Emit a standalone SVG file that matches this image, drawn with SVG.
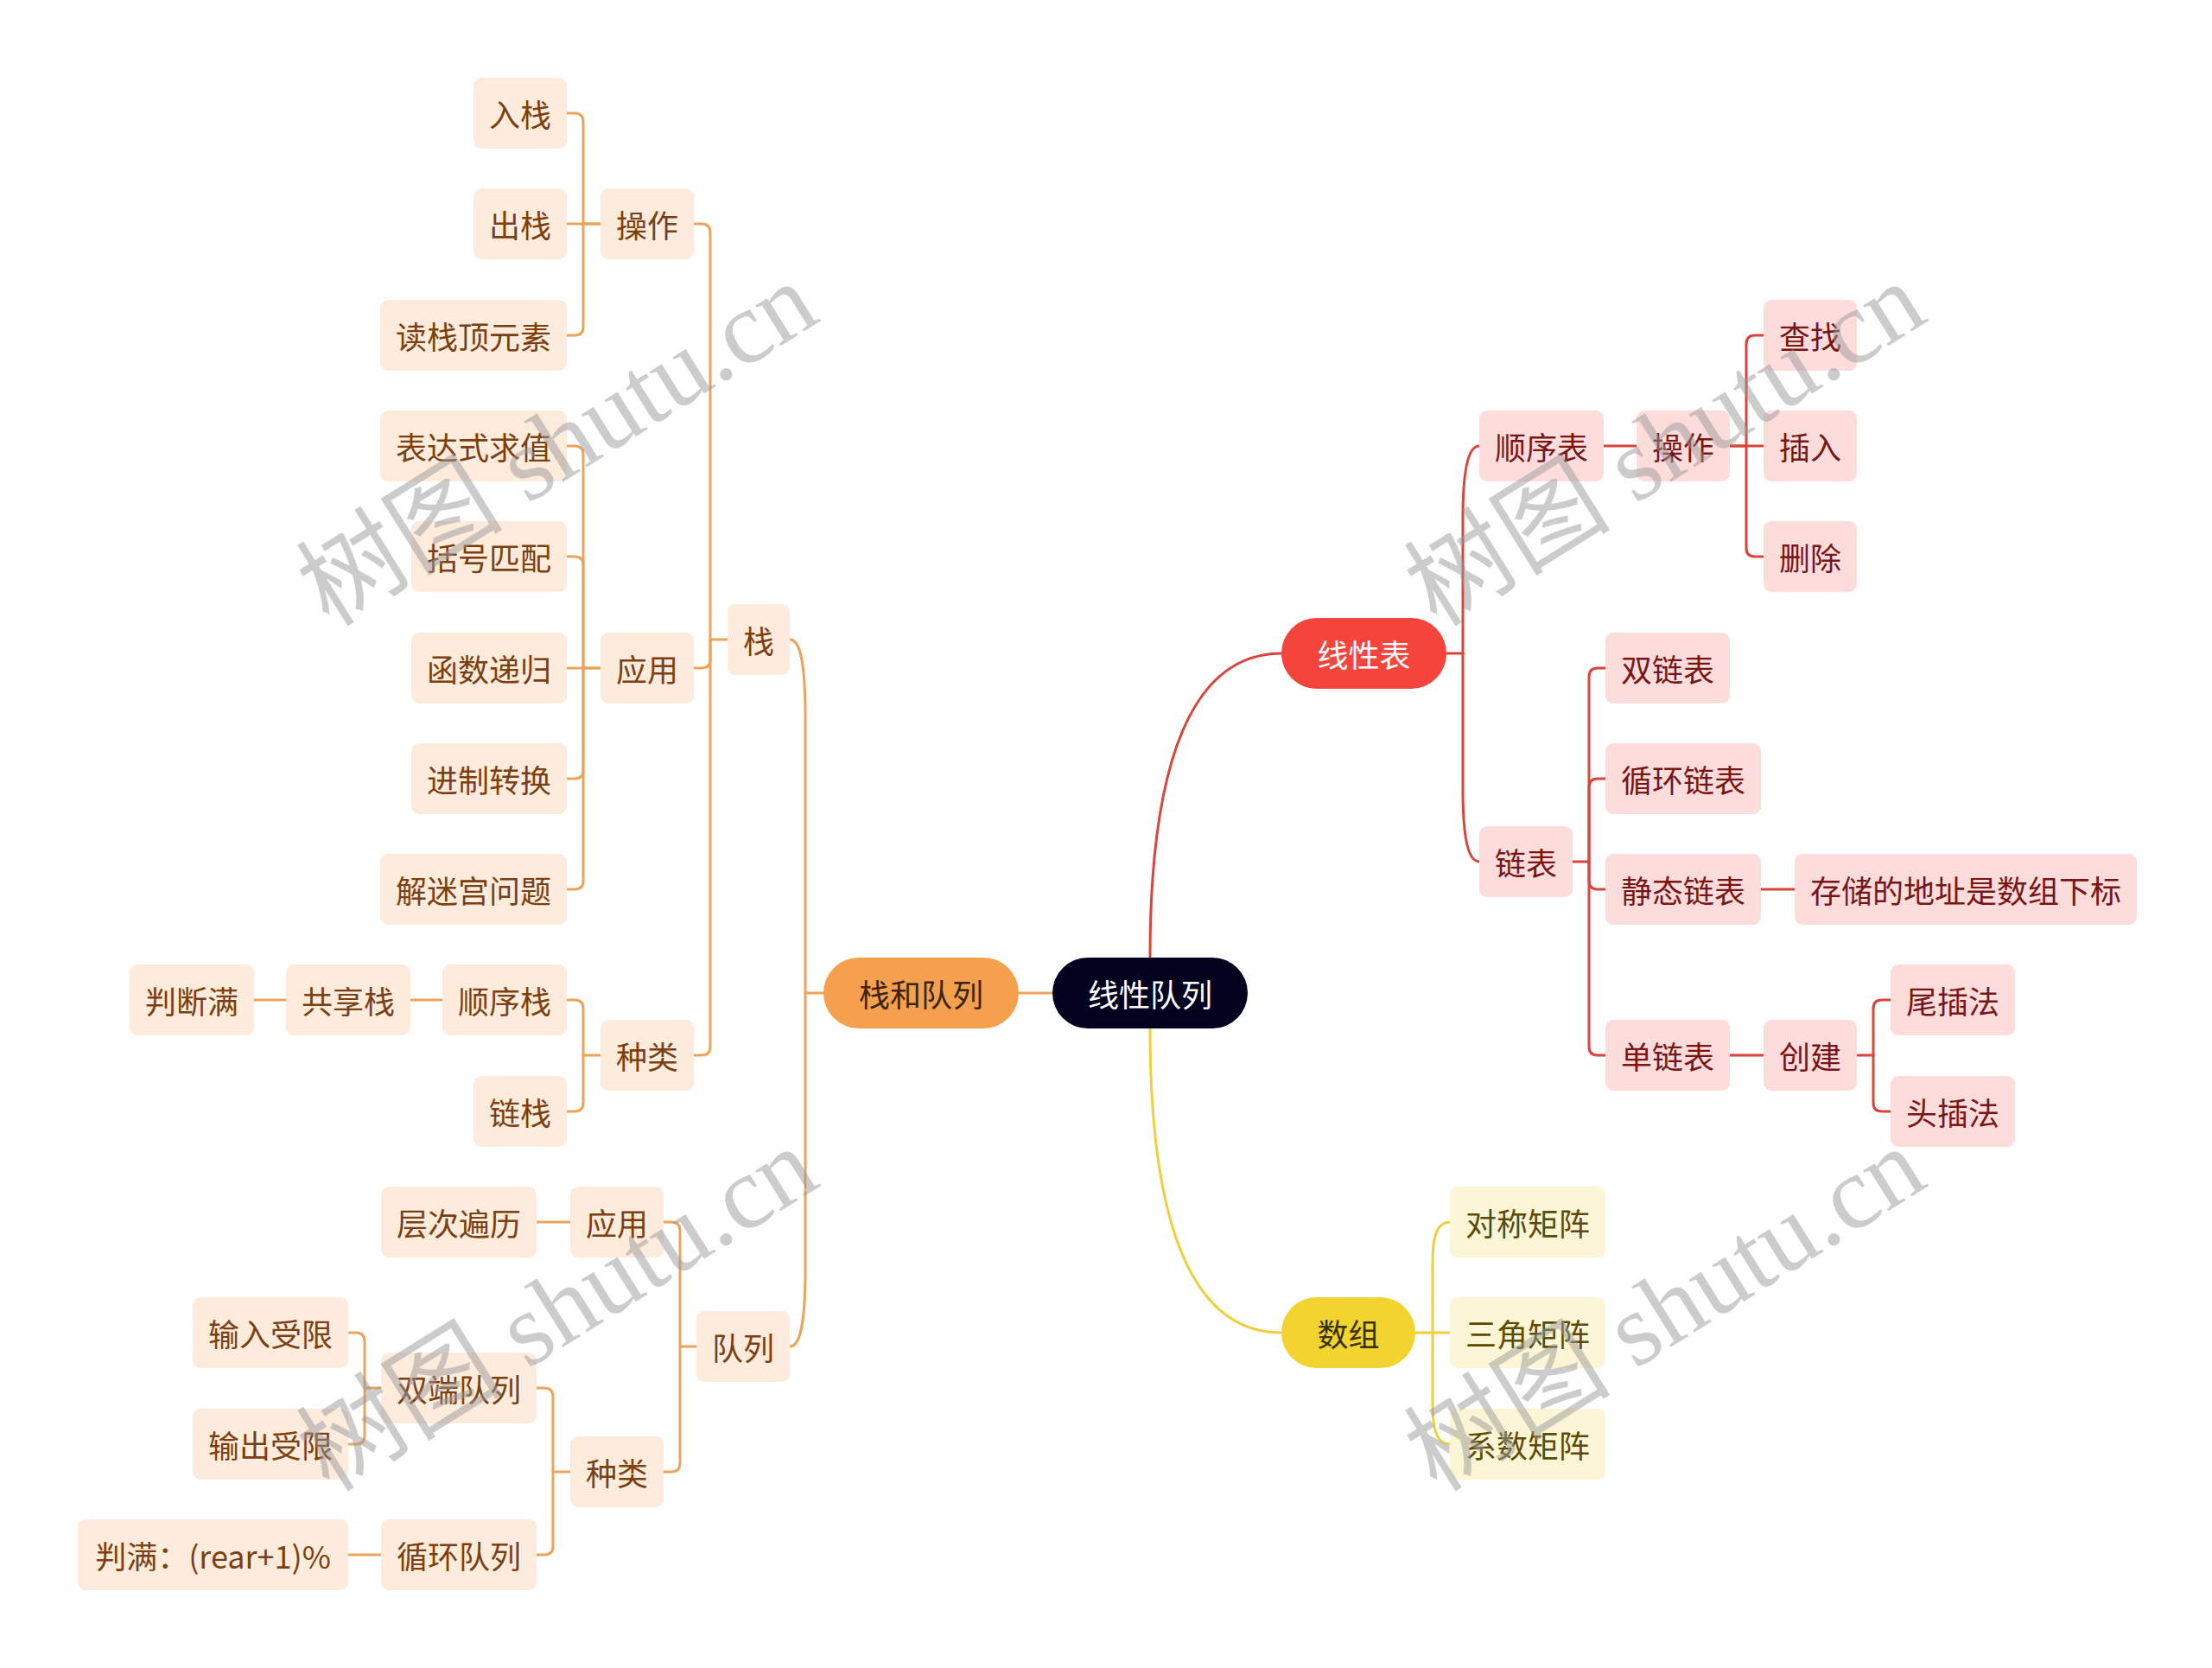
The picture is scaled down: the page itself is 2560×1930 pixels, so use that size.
<svg xmlns="http://www.w3.org/2000/svg" width="2560" height="1930" viewBox="0 0 2560 1930">
<style>
.t{font-family:"Noto Sans CJK SC","Noto Sans",sans-serif;font-size:36px;text-anchor:middle;dominant-baseline:central}
.bo{fill:#fdebdc}.br{fill:#fddcdc}.by{fill:#fcf6d6}
.to{fill:#7b3f12}.tr{fill:#7a1515}.ty{fill:#5c4b06}
.l{fill:none;stroke-width:3;stroke-linecap:round;stroke-linejoin:round}
.lo{stroke:#eba45a}.lr{stroke:#d9443b}.ly{stroke:#efd03a}
.wm{font-family:"Liberation Serif","Noto Sans CJK SC",serif;font-size:120px;fill:#9a9a9a;fill-opacity:0.5;text-anchor:middle;dominant-baseline:central}
</style>
<rect width="2560" height="1930" fill="#ffffff"/>
<g id="connectors">
<g class="l lo">
<path d="M656,131 H665 Q675,131 675,141 V259 H695"/>
<path d="M656,259 H695"/>
<path d="M656,388 H665 Q675,388 675,378 V259"/>
<path d="M656,516 H665 Q675,516 675,526 V773 H695"/>
<path d="M656,644 H665 Q675,644 675,654 V773"/>
<path d="M656,773 H695"/>
<path d="M656,901 H665 Q675,901 675,891 V773"/>
<path d="M656,1029 H665 Q675,1029 675,1019 V773"/>
<path d="M656,1157 H665 Q675,1157 675,1167 V1221 H695"/>
<path d="M656,1286 H665 Q675,1286 675,1276 V1221"/>
<path d="M475,1157 H512"/>
<path d="M294,1157 H331"/>
<path d="M803,259 H812 Q822,259 822,269 V740 H842"/>
<path d="M803,773 H812 Q822,773 822,763 V740"/>
<path d="M803,1221 H812 Q822,1221 822,1211 V740"/>
<path d="M768,1414 H777 Q787,1414 787,1424 V1558 H806"/>
<path d="M768,1703 H777 Q787,1703 787,1693 V1558"/>
<path d="M621,1414 H660"/>
<path d="M621,1606 H630 Q640,1606 640,1616 V1703 H660"/>
<path d="M621,1799 H630 Q640,1799 640,1789 V1703"/>
<path d="M403,1542 H412 Q422,1542 422,1552 V1606 H441"/>
<path d="M403,1671 H412 Q422,1671 422,1661 V1606"/>
<path d="M403,1799 H441"/>
<path d="M953,1149 H932"/>
<path d="M914,740 C926,740 932,765 932,830 V1149"/>
<path d="M914,1558 C926,1558 932,1533 932,1468 V1149"/>
<path d="M1218,1149 H1179"/>
</g>
<g class="l lr">
<path d="M1331,1107 C1331,880 1380,756 1483,756"/>
<path d="M1674,756 H1693"/>
<path d="M1712,516 C1700,516 1693,540 1693,600 V756"/>
<path d="M1712,997 C1700,997 1693,973 1693,913 V756"/>
<path d="M1856,516 H1894"/>
<path d="M2002,516 H2021 V398 Q2021,388 2031,388 H2041"/>
<path d="M2002,516 H2041"/>
<path d="M2021,516 V634 Q2021,644 2031,644 H2041"/>
<path d="M1820,997 H1839 V783 Q1839,773 1849,773 H1858"/>
<path d="M1839,997 V911 Q1839,901 1849,901 H1858"/>
<path d="M1839,997 V1019 Q1839,1029 1849,1029 H1858"/>
<path d="M1839,997 V1211 Q1839,1221 1849,1221 H1858"/>
<path d="M2038,1029 H2077"/>
<path d="M2002,1221 H2041"/>
<path d="M2149,1221 H2168 V1167 Q2168,1157 2178,1157 H2188"/>
<path d="M2168,1221 V1276 Q2168,1286 2178,1286 H2188"/>
</g>
<g class="l ly">
<path d="M1331,1191 C1331,1418 1380,1542 1483,1542"/>
<path d="M1638,1542 H1678"/>
<path d="M1678,1414 C1664,1414 1658,1428 1658,1460 V1542"/>
<path d="M1678,1671 C1664,1671 1658,1657 1658,1625 V1542"/>
</g>
</g>
<g id="root"><rect x="1218" y="1108" width="226" height="82" rx="41" fill="#02021f"/><text class="t" x="1331" y="1149" fill="#ffffff">线性队列</text></g>
<g id="n-zhan-duilie"><rect x="953" y="1108" width="226" height="82" rx="41" fill="#f4a04c"/><text class="t" x="1066" y="1149" fill="#3a2412">栈和队列</text></g>
<g id="n-xianxingbiao"><rect x="1483" y="715" width="191" height="82" rx="41" fill="#f5443c"/><text class="t" x="1578.5" y="756" fill="#ffffff">线性表</text></g>
<g id="n-shuzu"><rect x="1483" y="1501" width="155" height="82" rx="41" fill="#f2d330"/><text class="t" x="1560.5" y="1542" fill="#3a3000">数组</text></g>
<g id="n-ruzhan"><rect class="bo" x="548" y="90" width="108" height="82" rx="9"/><text class="t to" x="602" y="131">入栈</text></g>
<g id="n-chuzhan"><rect class="bo" x="548" y="218" width="108" height="82" rx="9"/><text class="t to" x="602" y="259">出栈</text></g>
<g id="n-duzhanding"><rect class="bo" x="440" y="347" width="216" height="82" rx="9"/><text class="t to" x="548" y="388">读栈顶元素</text></g>
<g id="n-caozuo1"><rect class="bo" x="695" y="218" width="108" height="82" rx="9"/><text class="t to" x="749" y="259">操作</text></g>
<g id="n-biaodashi"><rect class="bo" x="440" y="475" width="216" height="82" rx="9"/><text class="t to" x="548" y="516">表达式求值</text></g>
<g id="n-kuohao"><rect class="bo" x="476" y="603" width="180" height="82" rx="9"/><text class="t to" x="566" y="644">括号匹配</text></g>
<g id="n-hanshu"><rect class="bo" x="476" y="732" width="180" height="82" rx="9"/><text class="t to" x="566" y="773">函数递归</text></g>
<g id="n-jinzhi"><rect class="bo" x="476" y="860" width="180" height="82" rx="9"/><text class="t to" x="566" y="901">进制转换</text></g>
<g id="n-migong"><rect class="bo" x="440" y="988" width="216" height="82" rx="9"/><text class="t to" x="548" y="1029">解迷宫问题</text></g>
<g id="n-yingyong1"><rect class="bo" x="695" y="732" width="108" height="82" rx="9"/><text class="t to" x="749" y="773">应用</text></g>
<g id="n-zhan"><rect class="bo" x="842" y="699" width="72" height="82" rx="9"/><text class="t to" x="878" y="740">栈</text></g>
<g id="n-shunxuzhan"><rect class="bo" x="512" y="1116" width="144" height="82" rx="9"/><text class="t to" x="584" y="1157">顺序栈</text></g>
<g id="n-gongxiang"><rect class="bo" x="331" y="1116" width="144" height="82" rx="9"/><text class="t to" x="403" y="1157">共享栈</text></g>
<g id="n-panduanman"><rect class="bo" x="150" y="1116" width="144" height="82" rx="9"/><text class="t to" x="222" y="1157">判断满</text></g>
<g id="n-lianzhan"><rect class="bo" x="548" y="1245" width="108" height="82" rx="9"/><text class="t to" x="602" y="1286">链栈</text></g>
<g id="n-zhonglei1"><rect class="bo" x="695" y="1180" width="108" height="82" rx="9"/><text class="t to" x="749" y="1221">种类</text></g>
<g id="n-cengci"><rect class="bo" x="441" y="1373" width="180" height="82" rx="9"/><text class="t to" x="531" y="1414">层次遍历</text></g>
<g id="n-yingyong2"><rect class="bo" x="660" y="1373" width="108" height="82" rx="9"/><text class="t to" x="714" y="1414">应用</text></g>
<g id="n-duilie"><rect class="bo" x="806" y="1517" width="108" height="82" rx="9"/><text class="t to" x="860" y="1558">队列</text></g>
<g id="n-shuru"><rect class="bo" x="223" y="1501" width="180" height="82" rx="9"/><text class="t to" x="313" y="1542">输入受限</text></g>
<g id="n-shuangduan"><rect class="bo" x="441" y="1565" width="180" height="82" rx="9"/><text class="t to" x="531" y="1606">双端队列</text></g>
<g id="n-shuchu"><rect class="bo" x="223" y="1630" width="180" height="82" rx="9"/><text class="t to" x="313" y="1671">输出受限</text></g>
<g id="n-zhonglei2"><rect class="bo" x="660" y="1662" width="108" height="82" rx="9"/><text class="t to" x="714" y="1703">种类</text></g>
<g id="n-xunhuan"><rect class="bo" x="441" y="1758" width="180" height="82" rx="9"/><text class="t to" x="531" y="1799">循环队列</text></g>
<g id="n-panman"><rect class="bo" x="90" y="1758" width="313" height="82" rx="9"/><text class="t to" x="246.5" y="1799">判满：(rear+1)%</text></g>
<g id="n-shunxubiao"><rect class="br" x="1712" y="475" width="144" height="82" rx="9"/><text class="t tr" x="1784" y="516">顺序表</text></g>
<g id="n-caozuo2"><rect class="br" x="1894" y="475" width="108" height="82" rx="9"/><text class="t tr" x="1948" y="516">操作</text></g>
<g id="n-chazhao"><rect class="br" x="2041" y="347" width="108" height="82" rx="9"/><text class="t tr" x="2095" y="388">查找</text></g>
<g id="n-charu"><rect class="br" x="2041" y="475" width="108" height="82" rx="9"/><text class="t tr" x="2095" y="516">插入</text></g>
<g id="n-shanchu"><rect class="br" x="2041" y="603" width="108" height="82" rx="9"/><text class="t tr" x="2095" y="644">删除</text></g>
<g id="n-lianbiao"><rect class="br" x="1712" y="956" width="108" height="82" rx="9"/><text class="t tr" x="1766" y="997">链表</text></g>
<g id="n-shuanglian"><rect class="br" x="1858" y="732" width="144" height="82" rx="9"/><text class="t tr" x="1930" y="773">双链表</text></g>
<g id="n-xunhuanlian"><rect class="br" x="1858" y="860" width="180" height="82" rx="9"/><text class="t tr" x="1948" y="901">循环链表</text></g>
<g id="n-jingtai"><rect class="br" x="1858" y="988" width="180" height="82" rx="9"/><text class="t tr" x="1948" y="1029">静态链表</text></g>
<g id="n-cunchu"><rect class="br" x="2077" y="988" width="396" height="82" rx="9"/><text class="t tr" x="2275" y="1029">存储的地址是数组下标</text></g>
<g id="n-danlian"><rect class="br" x="1858" y="1180" width="144" height="82" rx="9"/><text class="t tr" x="1930" y="1221">单链表</text></g>
<g id="n-chuangjian"><rect class="br" x="2041" y="1180" width="108" height="82" rx="9"/><text class="t tr" x="2095" y="1221">创建</text></g>
<g id="n-weicha"><rect class="br" x="2188" y="1116" width="144" height="82" rx="9"/><text class="t tr" x="2260" y="1157">尾插法</text></g>
<g id="n-toucha"><rect class="br" x="2188" y="1245" width="144" height="82" rx="9"/><text class="t tr" x="2260" y="1286">头插法</text></g>
<g id="n-duicheng"><rect class="by" x="1678" y="1373" width="180" height="82" rx="9"/><text class="t ty" x="1768" y="1414">对称矩阵</text></g>
<g id="n-sanjiao"><rect class="by" x="1678" y="1501" width="180" height="82" rx="9"/><text class="t ty" x="1768" y="1542">三角矩阵</text></g>
<g id="n-xishu"><rect class="by" x="1678" y="1630" width="180" height="82" rx="9"/><text class="t ty" x="1768" y="1671">系数矩阵</text></g>
<g id="watermarks">
<text class="wm" x="645" y="514" transform="rotate(-32 645 514)">树图 shutu.cn</text>
<text class="wm" x="645" y="1515" transform="rotate(-32 645 1515)">树图 shutu.cn</text>
<text class="wm" x="1927" y="514" transform="rotate(-32 1927 514)">树图 shutu.cn</text>
<text class="wm" x="1927" y="1515" transform="rotate(-32 1927 1515)">树图 shutu.cn</text>
</g>
</svg>
